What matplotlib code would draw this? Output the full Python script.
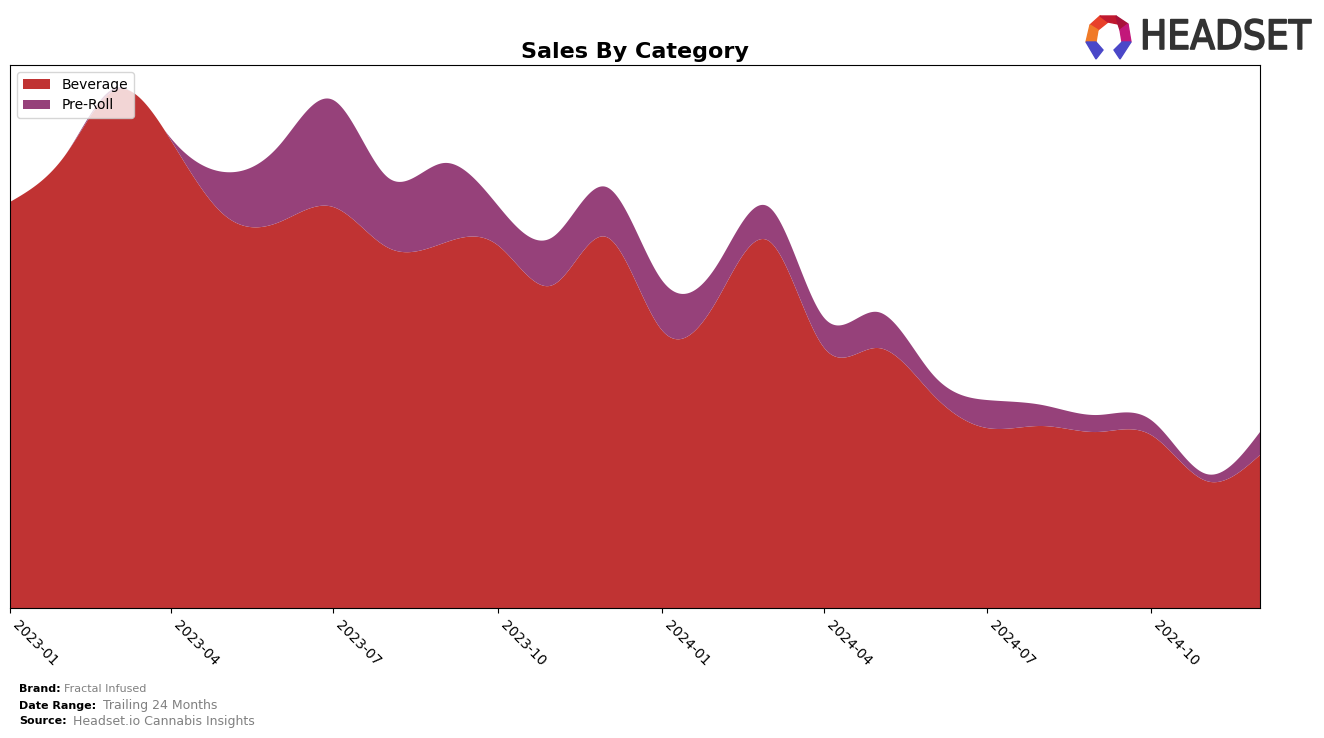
import numpy as np
import pandas as pd
import matplotlib
matplotlib.use("Agg")
import matplotlib.pyplot as plt
import matplotlib.dates as mdates
import matplotlib.patheffects as pe
from matplotlib.patches import Polygon

# monthly sales (arbitrary units)
months = pd.date_range("2023-01-01", "2024-12-01", freq="MS")
beverage = [406, 453, 518, 468, 393, 386, 401, 360, 365, 363, 323, 371,
            278, 308, 367, 260, 260, 213, 180, 182, 176, 173, 127, 153]
pre_roll = [0, 0, 2, 2, 43, 77, 107, 70, 80, 40, 48, 50,
            50, 35, 34, 30, 36, 20, 28, 21, 17, 15, 7, 23]
categories = ["Beverage", "Pre-Roll"]
colors = ["#c03333", "#96417a"]
tick_labels = ["2023-01", "2023-04", "2023-07", "2023-10",
               "2024-01", "2024-04", "2024-07", "2024-10"]


def natural_spline(x, y, xs):
    # plain natural cubic spline, only used to draw smooth edges
    x = np.asarray(x, float)
    y = np.asarray(y, float)
    n = len(x)
    h = np.diff(x)
    A = np.zeros((n, n))
    b = np.zeros(n)
    A[0, 0] = 1
    A[-1, -1] = 1
    for i in range(1, n - 1):
        A[i, i - 1] = h[i - 1]
        A[i, i] = 2 * (h[i - 1] + h[i])
        A[i, i + 1] = h[i]
        b[i] = 3 * ((y[i + 1] - y[i]) / h[i] - (y[i] - y[i - 1]) / h[i - 1])
    c = np.linalg.solve(A, b)
    idx = np.clip(np.searchsorted(x, xs) - 1, 0, n - 2)
    dx = xs - x[idx]
    hi = h[idx]
    bb = (y[idx + 1] - y[idx]) / hi - hi * (2 * c[idx] + c[idx + 1]) / 3
    d = (c[idx + 1] - c[idx]) / (3 * hi)
    return y[idx] + bb * dx + c[idx] * dx ** 2 + d * dx ** 3


xnum = mdates.date2num(months)
xs = np.linspace(xnum[0], xnum[-1], 800)
bev_s = np.clip(natural_spline(xnum, beverage, xs), 0, None)
pre_s = np.clip(natural_spline(xnum, pre_roll, xs), 0, None)

fig = plt.figure(figsize=(13.24, 7.38), dpi=100)
ax = fig.add_axes([10 / 1324, 1 - 608 / 738, 1250 / 1324, 543 / 738])
ax.stackplot(mdates.num2date(xs), bev_s, pre_s, labels=categories, colors=colors)
ax.set_xlim(mdates.num2date(xnum[0]), mdates.num2date(xnum[-1]))
ax.set_ylim(0, 543)
ax.set_yticks([])
ticks = pd.to_datetime([t + "-01" for t in tick_labels])
ax.set_xticks(ticks)
ax.set_xticklabels(tick_labels, rotation=-45, ha="left", fontsize=10)
ax.set_title("Sales By Category", fontsize=16, fontweight="bold", pad=5)
ax.legend(loc="upper left", fontsize=10, framealpha=0.8)

# footer
fig.text(19 / 1324, 1 - 689 / 738, "Brand:", fontsize=8, fontweight="bold", va="center")
fig.text(64 / 1324, 1 - 689 / 738, "Fractal Infused", fontsize=8, color="gray", va="center")
fig.text(19 / 1324, 1 - 706 / 738, "Date Range:", fontsize=8, fontweight="bold", va="center")
fig.text(103 / 1324, 1 - 706 / 738, "Trailing 24 Months", fontsize=9, color="gray", va="center")
fig.text(19 / 1324, 1 - 721 / 738, "Source:", fontsize=8, fontweight="bold", va="center")
fig.text(73 / 1324, 1 - 721 / 738, "Headset.io Cannabis Insights", fontsize=9, color="gray", va="center")

# logo
fig.text(1140 / 1324, 1 - 38 / 738, "HEADSET", fontsize=29, color="#333333",
         va="center", ha="left", fontstretch="condensed",
         path_effects=[pe.withStroke(linewidth=1.2, foreground="#333333")])


def px(x, y):
    return (x / 1324, 1 - y / 738)


pieces = [
    ([(1090, 25), (1100, 16), (1108, 22), (1098, 30)], "#e8402a"),
    ([(1100, 16), (1116, 16), (1118, 24), (1108, 22)], "#c0192f"),
    ([(1116, 16), (1128, 24), (1120, 30), (1118, 24)], "#a8123a"),
    ([(1128, 24), (1131, 42), (1122, 42), (1120, 30)], "#c2177a"),
    ([(1090, 25), (1098, 30), (1096, 42), (1086, 42)], "#f07a28"),
    ([(1086, 42), (1096, 42), (1103, 50), (1096, 59)], "#4a47c8"),
    ([(1131, 42), (1122, 42), (1114, 50), (1120, 59)], "#4a47c8"),
]
for pts, col in pieces:
    fig.patches.append(Polygon([px(*p) for p in pts], closed=True, color=col,
                               transform=fig.transFigure, figure=fig))

fig.savefig("out.png", dpi=100)
